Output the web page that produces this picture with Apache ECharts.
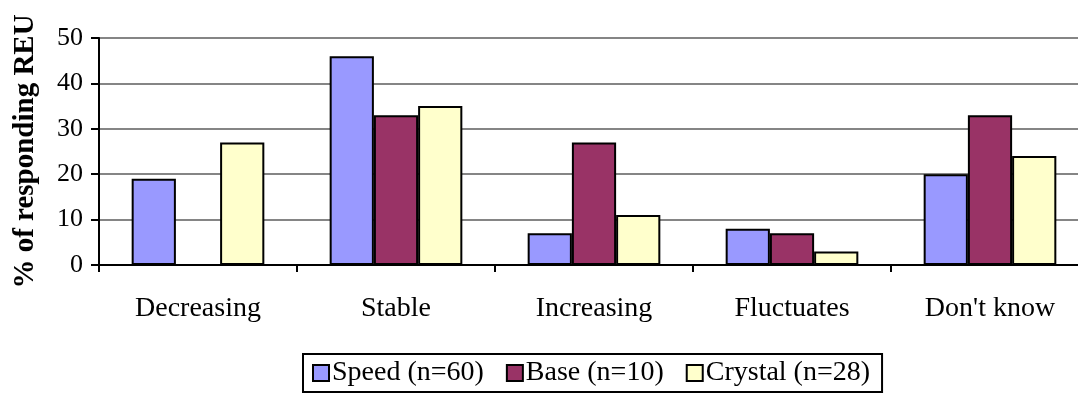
<!DOCTYPE html>
<html>
<head>
<meta charset="utf-8">
<script src="https://cdn.jsdelivr.net/npm/echarts@6/dist/echarts.min.js"></script>
<style>
  html, body { margin: 0; padding: 0; background: #fff; }
  #chart { width: 1078px; height: 396px; }
</style>
</head>
<body>
<div id="chart"></div>
<script>
// Trend categories and response shares (%) per REU group
const categories = ['Decreasing', 'Stable', 'Increasing', 'Fluctuates', "Don't know"];
const seriesNames = ['Speed (n=60)', 'Base (n=10)', 'Crystal (n=28)'];
const speedValues = [19, 46, 7, 8, 20];
const baseValues = [0, 33, 27, 7, 33];
const crystalValues = [27, 35, 11, 3, 24];
const yTicks = [0, 10, 20, 30, 40, 50];

const serif = '"Liberation Serif", "DejaVu Serif", serif';
const colors = ['#9999FF', '#993366', '#FFFFCC'];
const valueSets = [speedValues, baseValues, crystalValues];

const chart = echarts.init(document.getElementById('chart'), null, { renderer: 'canvas' });

chart.setOption({
  animation: false,
  backgroundColor: '#ffffff',
  grid: {
    left: 99, top: 38, width: 990, height: 227,
    containLabel: false,
    outerBoundsMode: 'none'
  },
  legend: {
    left: 303, top: 354,
    data: seriesNames,
    icon: 'rect',
    itemWidth: 16, itemHeight: 16,
    itemGap: 22,
    padding: [5, 12, 5, 9],
    borderColor: '#000', borderWidth: 2,
    textStyle: { fontFamily: serif, fontSize: 28, color: '#000', padding: [0, 0, 0, -2] }
  },
  xAxis: {
    type: 'category',
    data: categories,
    axisLine: { lineStyle: { color: '#000', width: 2 } },
    axisTick: { show: true, length: 7, alignWithLabel: false, lineStyle: { color: '#000', width: 2 } },
    axisLabel: { fontFamily: serif, fontSize: 28, color: '#000', margin: 30 },
    splitLine: { show: false }
  },
  yAxis: {
    type: 'value',
    min: yTicks[0], max: yTicks[yTicks.length - 1], interval: 10,
    name: '% of responding REU',
    nameLocation: 'middle',
    nameGap: 59,
    nameTextStyle: { fontFamily: serif, fontSize: 29, fontWeight: 'bold', color: '#000' },
    axisLine: { show: true, lineStyle: { color: '#000', width: 2 } },
    axisTick: { show: true, length: 8, lineStyle: { color: '#000', width: 2 } },
    axisLabel: { fontFamily: serif, fontSize: 26, color: '#000', margin: 16 },
    splitLine: { show: true, lineStyle: { color: '#858585', width: 2 } }
  },
  series: seriesNames.map((name, i) => ({
    name: name,
    type: 'bar',
    data: valueSets[i],
    barGap: '0%',
    barCategoryGap: '33%',
    itemStyle: { color: colors[i], borderColor: '#000', borderWidth: 2 }
  }))
});
</script>
</body>
</html>
